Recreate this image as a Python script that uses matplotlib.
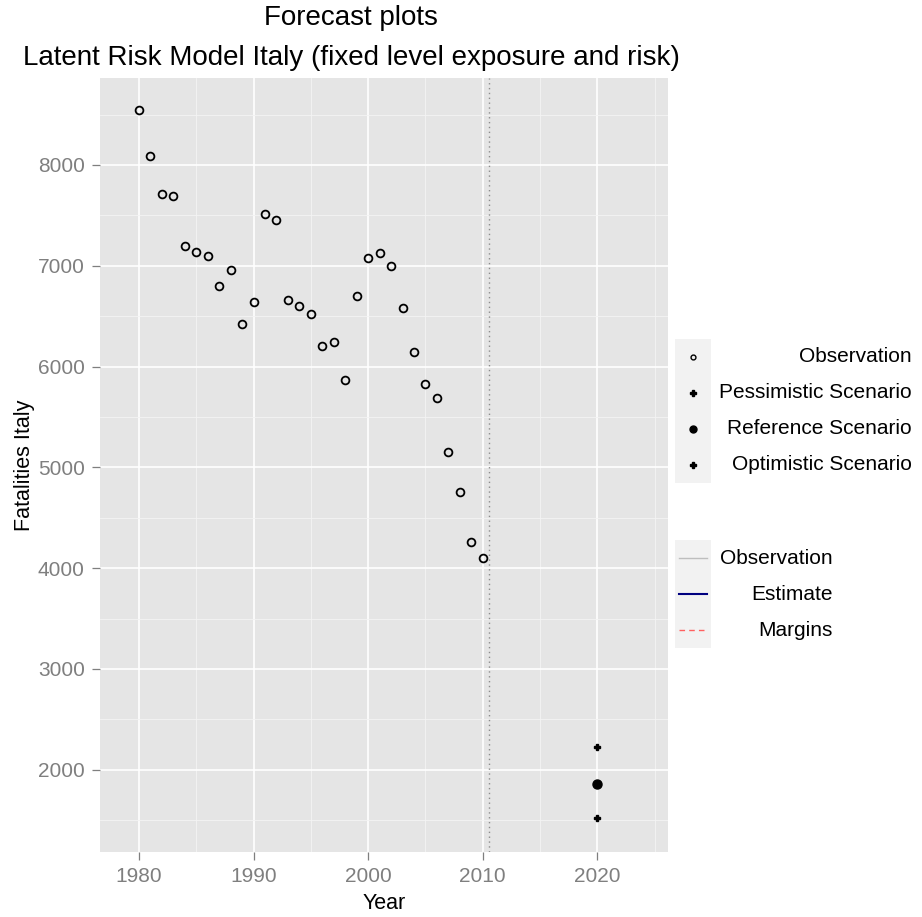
import matplotlib
matplotlib.use('Agg')
import matplotlib.pyplot as plt
from matplotlib.patches import Rectangle

plt.rcParams['font.family'] = ['Liberation Sans', 'DejaVu Sans']

# ---- data ----
years = list(range(1980, 2011))
fatalities = [8546, 8089, 7712, 7692, 7196, 7137, 7097, 6800, 6955, 6423,
              6641, 7514, 7454, 6661, 6601, 6522, 6204, 6244, 5867, 6700,
              7077, 7122, 6998, 6581, 6142, 5827, 5685, 5153, 4753, 4257, 4098]
forecast_year = [2020]
pessimistic = [2223]
reference = [1856]
optimistic = [1525]
forecast_start = 2010.5

x_major = [1980, 1990, 2000, 2010, 2020]
x_minor = [1985, 1995, 2005, 2015, 2025]
y_major = [2000, 3000, 4000, 5000, 6000, 7000, 8000]
y_minor = [1500, 2500, 3500, 4500, 5500, 6500, 7500, 8500]

shape_labels = ['Observation', 'Pessimistic Scenario', 'Reference Scenario', 'Optimistic Scenario']
line_labels = ['Observation', 'Estimate', 'Margins']

W, H = 922, 917
fig = plt.figure(figsize=(W / 100, H / 100), dpi=100)

L, R, T, B = 100, 668, 78, 852
ax = fig.add_axes([L / W, 1 - B / H, (R - L) / W, (B - T) / H])
ax.set_facecolor('#E5E5E5')
for s in ax.spines.values():
    s.set_visible(False)

ax.set_xlim(1976.6, 2026.16)
ax.set_ylim(1184.5, 8863)
ax.set_xticks(x_major)
ax.set_xticks(x_minor, minor=True)
ax.set_yticks(y_major)
ax.set_yticks(y_minor, minor=True)
ax.grid(which='major', color='white', linewidth=1.2)
ax.grid(which='minor', color='#F4F4F4', linewidth=0.6)
ax.set_axisbelow(True)
ax.tick_params(which='major', length=5.5, width=0.9, color='#7F7F7F',
               labelcolor='#7F7F7F', labelsize=15, pad=5.5)
ax.tick_params(which='minor', length=0)

ax.axvline(forecast_start, color='#8C8C8C', linestyle=(0, (1, 2.5)), linewidth=1.0, zorder=2)

ax.plot(years, fatalities, linestyle='none', marker='o', markersize=5.6,
        markerfacecolor='none', markeredgecolor='black', markeredgewidth=1.3, zorder=3)
ax.plot(forecast_year, pessimistic, linestyle='none', marker='P', markersize=5,
        color='black', zorder=3)
ax.plot(forecast_year, reference, linestyle='none', marker='o', markersize=6.5,
        color='black', zorder=3)
ax.plot(forecast_year, optimistic, linestyle='none', marker='P', markersize=5,
        color='black', zorder=3)

ax.set_xlabel('Year', fontsize=15.5, labelpad=5)
ax.set_ylabel('Fatalities Italy', fontsize=15.5, labelpad=2)

# titles
fig.text(351 / W, 1 - 18 / H, 'Forecast plots', ha='center', va='center', fontsize=20)
fig.text(351 / W, 1 - 58 / H, 'Latent Risk Model Italy (fixed level exposure and risk)',
         ha='center', va='center', fontsize=20)

# ---- legends (pixel overlay) ----
lg = fig.add_axes([0, 0, 1, 1])
lg.set_xlim(0, W)
lg.set_ylim(H, 0)
lg.axis('off')
lg.patch.set_alpha(0)

key_x0, key_w = 675, 36
rows1 = [357, 393, 429, 465]
for i, (yc, lab) in enumerate(zip(rows1, shape_labels)):
    lg.add_patch(Rectangle((key_x0, yc - 18), key_w, 36, facecolor='#F2F2F2', edgecolor='none'))
    kx = key_x0 + key_w / 2
    if i == 0:
        lg.plot([kx], [yc], marker='o', markersize=3.5, markerfacecolor='none',
                markeredgecolor='black', markeredgewidth=1.0)
    elif i == 2:
        lg.plot([kx], [yc], marker='o', markersize=5, color='black')
    else:
        lg.plot([kx], [yc], marker='P', markersize=4, color='black')
    lg.text(912, yc, lab, ha='right', va='center', fontsize=15, color='black')

rows2 = [558, 594, 630]
line_styles = [dict(color='#BEBEBE', linestyle='-', linewidth=1.0),
               dict(color='#00007F', linestyle='-', linewidth=1.5),
               dict(color='#FF6060', linestyle=(0, (4, 3)), linewidth=1.0)]
for yc, lab, st in zip(rows2, line_labels, line_styles):
    lg.add_patch(Rectangle((key_x0, yc - 18), key_w, 36, facecolor='#F2F2F2', edgecolor='none'))
    lg.plot([key_x0 + 4, key_x0 + key_w - 4], [yc, yc], **st)
    lg.text(833, yc, lab, ha='right', va='center', fontsize=15, color='black')

fig.savefig('out.png', dpi=100, facecolor='white')
